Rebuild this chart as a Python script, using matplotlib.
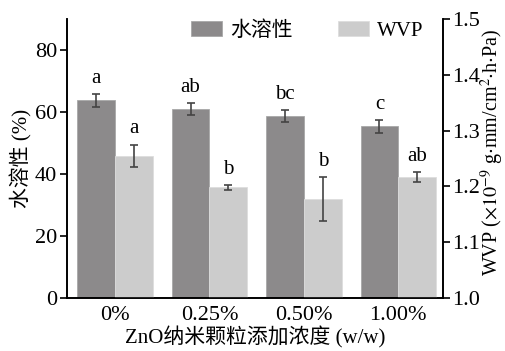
import numpy as np
import matplotlib.pyplot as plt

plt.rcParams['font.family'] = ['Liberation Serif', 'Noto Sans CJK SC']
plt.rcParams['mathtext.fontset'] = 'stix'

# données
categories = ['0%', '0.25%', '0.50%', '1.00%']
solubility = [63.7, 61.0, 58.8, 55.4]
solubility_err = [2.1, 1.9, 1.9, 2.1]
wvp = [1.255, 1.198, 1.177, 1.216]
wvp_err = [0.020, 0.004, 0.039, 0.009]
sol_letters = ['a', 'ab', 'bc', 'c']
wvp_letters = ['a', 'b', 'b', 'ab']

dark = '#8c8a8b'
light = '#cccccc'
errc = '#444444'

fig = plt.figure(figsize=(5.06, 3.51), dpi=100)
ax = fig.add_axes([0.132, 0.151, 0.743, 0.795])
ax2 = ax.twinx()

x = np.arange(len(categories))
w = 0.4

b1 = ax.bar(x - w/2, solubility, w, color=dark, edgecolor='#a8a8a8', linewidth=0.6,
            yerr=solubility_err, error_kw=dict(ecolor=errc, elinewidth=1.2, capsize=3, capthick=1.2),
            label='水溶性')
b2 = ax2.bar(x + w/2, wvp, w, bottom=0, color=light, edgecolor='#dddddd', linewidth=0.6,
             yerr=wvp_err, error_kw=dict(ecolor=errc, elinewidth=1.2, capsize=3, capthick=1.2),
             label='WVP')

for i in range(len(categories)):
    ax.text(x[i] - w/2, solubility[i] + solubility_err[i] + 1.8, sol_letters[i],
            ha='center', va='bottom', fontsize=15)
    ax2.text(x[i] + w/2, wvp[i] + wvp_err[i] + 0.011, wvp_letters[i],
             ha='center', va='bottom', fontsize=15)

ax.set_ylim(0, 90)
ax.set_yticks([0, 20, 40, 60, 80])
ax2.set_ylim(1.0, 1.5)
ax2.set_yticks([1.0, 1.1, 1.2, 1.3, 1.4, 1.5])
ax2.set_yticklabels(['1.0', '1.1', '1.2', '1.3', '1.4', '1.5'])
ax.set_xlim(-0.51, 3.47)
ax.set_xticks(x)
ax.set_xticklabels(categories)
ax.tick_params(axis='x', length=0, labelsize=16, pad=6)
ax.tick_params(axis='y', labelsize=16, length=5, width=1.2, pad=2)
ax2.tick_params(axis='y', labelsize=16, length=5, width=1.2, pad=2)

for a in (ax, ax2):
    a.spines['top'].set_visible(False)
    for s in ('left', 'right', 'bottom'):
        a.spines[s].set_linewidth(1.2)

ax.set_ylabel('水溶性 (%)', fontsize=15, labelpad=2)
ax2.set_ylabel(r'WVP ($\times10^{-9}$ g$\cdot$mm/cm$^{2}$$\cdot$h$\cdot$Pa)', fontsize=14.5)
ax2.yaxis.set_label_coords(1.097, 0.523)
ax.set_xlabel('ZnO纳米颗粒添加浓度 (w/w)', fontsize=15, labelpad=1)

ax.legend([b1, b2], ['水溶性', 'WVP'], ncol=2, frameon=False, fontsize=15,
          loc='center', bbox_to_anchor=(0.64, 0.957), handlelength=1.45,
          handleheight=0.7, columnspacing=2.2, handletextpad=0.4)

fig.savefig('out.png', dpi=100)
